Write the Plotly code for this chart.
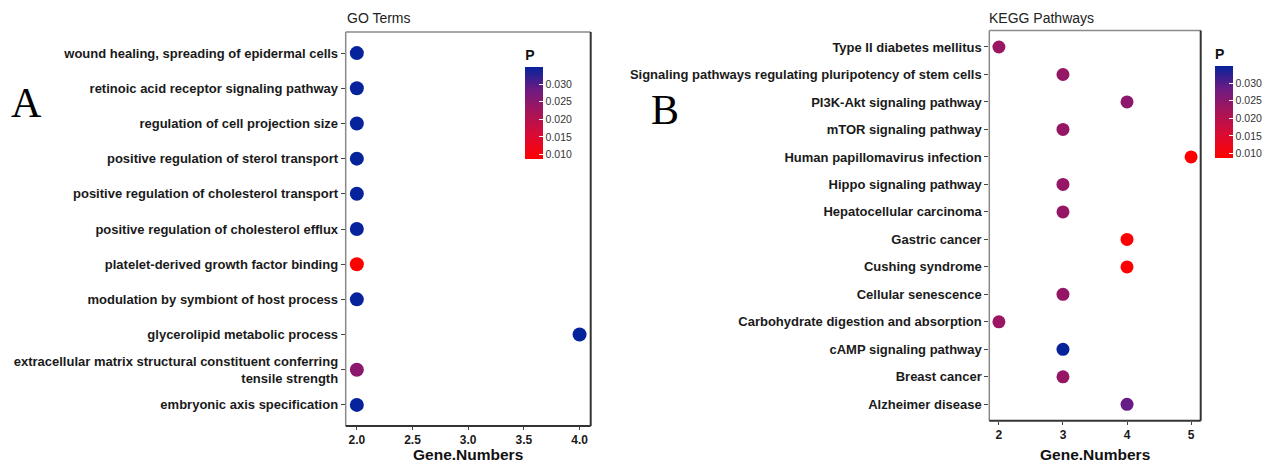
import plotly.graph_objects as go

# ---------------- data ----------------
go_terms = [
    "wound healing, spreading of epidermal cells",
    "retinoic acid receptor signaling pathway",
    "regulation of cell projection size",
    "positive regulation of sterol transport",
    "positive regulation of cholesterol transport",
    "positive regulation of cholesterol efflux",
    "platelet-derived growth factor binding",
    "modulation by symbiont of host process",
    "glycerolipid metabolic process",
    "extracellular matrix structural constituent conferring<br>tensile strength",
    "embryonic axis specification",
]
go_genes = [2, 2, 2, 2, 2, 2, 2, 2, 4, 2, 2]
go_p = [0.0348, 0.0348, 0.0348, 0.0348, 0.0348, 0.0348, 0.0086, 0.0348, 0.0348, 0.0250, 0.0348]

kegg_terms = [
    "Type II diabetes mellitus",
    "Signaling pathways regulating pluripotency of stem cells",
    "PI3K-Akt signaling pathway",
    "mTOR signaling pathway",
    "Human papillomavirus infection",
    "Hippo signaling pathway",
    "Hepatocellular carcinoma",
    "Gastric cancer",
    "Cushing syndrome",
    "Cellular senescence",
    "Carbohydrate digestion and absorption",
    "cAMP signaling pathway",
    "Breast cancer",
    "Alzheimer disease",
]
kegg_genes = [2, 3, 4, 3, 5, 3, 3, 4, 4, 3, 2, 3, 3, 4]
kegg_p = [0.0232, 0.0238, 0.0250, 0.0238, 0.0086, 0.0238, 0.0238, 0.0088, 0.0088,
          0.0238, 0.0232, 0.0348, 0.0238, 0.0288]

cbar_ticks = [0.010, 0.015, 0.020, 0.025, 0.030]
cbar_ticktext = ["0.010", "0.015", "0.020", "0.025", "0.030"]
p_min, p_max = 0.0086, 0.0348

# ---------------- style ----------------
W, H = 1271, 464
FONT = "Liberation Sans, Arial, sans-serif"
colorscale = [
    [0.0, "#FF0000"],
    [0.25, "#DC0A32"],
    [0.5, "#A81458"],
    [0.75, "#6E1B82"],
    [1.0, "#06239C"],
]

def px_x(v):
    return v / W

def px_y(v):
    return 1 - v / H

fig = go.Figure()

fig.add_trace(go.Scatter(
    x=go_genes, y=go_terms, mode="markers",
    marker=dict(size=14, color=go_p, coloraxis="coloraxis"),
    xaxis="x", yaxis="y", showlegend=False,
))
fig.add_trace(go.Scatter(
    x=kegg_genes, y=kegg_terms, mode="markers",
    marker=dict(size=13, color=kegg_p, coloraxis="coloraxis2"),
    xaxis="x2", yaxis="y2", showlegend=False,
))

tickfont_y = dict(family=FONT, size=13, color="#1a1a1a", weight="bold")
tickfont_x = dict(family=FONT, size=12, color="#1a1a1a", weight="bold")

def cbar(xpix, ybottom):
    return dict(
        x=px_x(xpix), xanchor="left", xpad=0, ypad=0,
        y=px_y(ybottom), yanchor="bottom",
        len=113, lenmode="pixels", thickness=18, thicknessmode="pixels",
        outlinewidth=0,
        title=dict(text="P", side="top", font=dict(family=FONT, size=14, color="#111", weight="bold")),
        tickvals=cbar_ticks, ticktext=cbar_ticktext,
        ticks="inside", ticklen=4, tickcolor="white", tickwidth=1,
        tickfont=dict(family=FONT, size=10.5, color="#333"),
    )

n1, n2 = len(go_terms), len(kegg_terms)
title_font = dict(family=FONT, size=15.5, color="#111", weight="bold")

fig.update_layout(
    width=W, height=H,
    margin=dict(l=0, r=0, t=0, b=0, autoexpand=False),
    paper_bgcolor="white", plot_bgcolor="white",
    xaxis=dict(
        domain=[px_x(345.7), px_x(590.7)], range=[1.9, 4.1],
        tickvals=[2, 2.5, 3, 3.5, 4], tickformat=".1f",
        ticks="outside", ticklen=3, tickcolor="#444", ticklabelstandoff=0,
        showgrid=False, zeroline=False, showline=False, automargin=False,
        tickfont=tickfont_x, anchor="y",
    ),
    yaxis=dict(
        domain=[px_y(426), px_y(32)], type="category",
        categoryorder="array", categoryarray=go_terms,
        range=[n1 - 1 + 0.6, -0.6],
        ticks="outside", ticklen=4, tickcolor="#444", automargin=False,
        showgrid=False, zeroline=False, showline=False,
        tickfont=tickfont_y, anchor="x",
    ),
    xaxis2=dict(
        domain=[px_x(989.3), px_x(1200.7)], range=[1.85, 5.15],
        tickvals=[2, 3, 4, 5],
        ticks="outside", ticklen=3, tickcolor="#444", ticklabelstandoff=0,
        showgrid=False, zeroline=False, showline=False, automargin=False,
        tickfont=tickfont_x, anchor="y2",
    ),
    yaxis2=dict(
        domain=[px_y(420.8), px_y(30.5)], type="category",
        categoryorder="array", categoryarray=kegg_terms,
        range=[n2 - 1 + 0.6, -0.6],
        ticks="outside", ticklen=4, tickcolor="#444", automargin=False,
        showgrid=False, zeroline=False, showline=False,
        tickfont=tickfont_y, anchor="x2",
    ),
    coloraxis=dict(colorscale=colorscale, cmin=p_min, cmax=p_max, colorbar=cbar(525.3, 159.3)),
    coloraxis2=dict(colorscale=colorscale, cmin=p_min, cmax=p_max, colorbar=cbar(1215, 158.3)),
)

# panel borders: top/left lighter, bottom/right darker
for xr, yr in [("x domain", "y domain"), ("x2 domain", "y2 domain")]:
    fig.add_shape(type="line", xref=xr, yref=yr, x0=0, x1=1, y0=1, y1=1,
                  line=dict(color="#8a8a8a", width=1.5))
    fig.add_shape(type="line", xref=xr, yref=yr, x0=0, x1=0, y0=0, y1=1,
                  line=dict(color="#8a8a8a", width=1.5))
    fig.add_shape(type="line", xref=xr, yref=yr, x0=0, x1=1, y0=0, y1=0,
                  line=dict(color="#333333", width=2))
    fig.add_shape(type="line", xref=xr, yref=yr, x0=1, x1=1, y0=0, y1=1,
                  line=dict(color="#333333", width=2))

# x-axis titles
for xr in ["x domain", "x2 domain"]:
    fig.add_annotation(text="Gene.Numbers", xref=xr, yref="paper",
                       x=0.5, y=0, xanchor="center", yanchor="bottom",
                       borderpad=0, showarrow=False, font=title_font)

# panel titles
fig.add_annotation(text="GO Terms", xref="paper", yref="paper",
                   x=px_x(345), y=px_y(18), xanchor="left", yanchor="middle",
                   showarrow=False, font=dict(family=FONT, size=14, color="#222"))
fig.add_annotation(text="KEGG Pathways", xref="paper", yref="paper",
                   x=px_x(987), y=px_y(18), xanchor="left", yanchor="middle",
                   showarrow=False, font=dict(family=FONT, size=14, color="#222"))

# panel letters
SERIF = "Liberation Serif, Times New Roman, serif"
fig.add_annotation(text="A", xref="paper", yref="paper",
                   x=px_x(26), y=px_y(103), xanchor="center", yanchor="middle",
                   showarrow=False, font=dict(family=SERIF, size=42, color="#000"))
fig.add_annotation(text="B", xref="paper", yref="paper",
                   x=px_x(665), y=px_y(110), xanchor="center", yanchor="middle",
                   showarrow=False, font=dict(family=SERIF, size=42, color="#000"))

fig.write_html("out.html")
